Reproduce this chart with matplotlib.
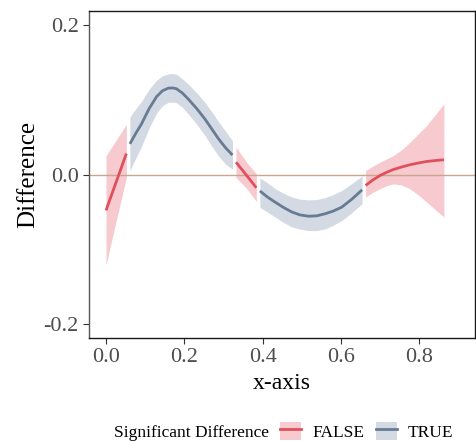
import matplotlib.pyplot as plt
from matplotlib.lines import Line2D
from matplotlib.patches import Patch

plt.rcParams['font.family'] = ['Liberation Serif', 'DejaVu Serif']

# smoothed difference, split by significance (x, fit, lower, upper)
false1_x = [0.000, 0.026, 0.052]
false1_y = [-0.048, -0.010, 0.028]
false1_lo = [-0.121, -0.062, -0.004]
false1_hi = [0.025, 0.046, 0.067]

true1_x = [0.061, 0.076, 0.091, 0.110, 0.129, 0.144, 0.159, 0.170, 0.180, 0.195,
           0.210, 0.232, 0.253, 0.270, 0.287, 0.305, 0.323]
true1_y = [0.041, 0.055, 0.068, 0.088, 0.104, 0.112, 0.1155, 0.1158, 0.1147, 0.109,
           0.101, 0.088, 0.074, 0.061, 0.048, 0.036, 0.026]
true1_lo = [0.005, 0.022, 0.038, 0.062, 0.082, 0.092, 0.0965, 0.097, 0.096, 0.090,
            0.081, 0.067, 0.052, 0.038, 0.025, 0.014, 0.007]
true1_hi = [0.077, 0.088, 0.098, 0.114, 0.126, 0.132, 0.1345, 0.135, 0.134, 0.128,
            0.121, 0.109, 0.096, 0.084, 0.071, 0.058, 0.045]

false2_x = [0.332, 0.358, 0.384]
false2_y = [0.0165, -0.0005, -0.0178]
false2_lo = [-0.004, -0.018, -0.036]
false2_hi = [0.037, 0.017, 0.001]

true2_x = [0.393, 0.412, 0.432, 0.453, 0.474, 0.495, 0.517, 0.538, 0.559, 0.580,
           0.602, 0.628, 0.654]
true2_y = [-0.022, -0.030, -0.037, -0.044, -0.050, -0.054, -0.0558, -0.0553, -0.0526,
           -0.049, -0.0437, -0.033, -0.0205]
true2_lo = [-0.044, -0.050, -0.057, -0.064, -0.070, -0.073, -0.075, -0.075, -0.073,
            -0.068, -0.0615, -0.051, -0.039]
true2_hi = [-0.0045, -0.011, -0.019, -0.025, -0.030, -0.033, -0.034, -0.0335, -0.031,
            -0.027, -0.0214, -0.012, -0.002]

false3_x = [0.663, 0.681, 0.700, 0.717, 0.734, 0.755, 0.776, 0.797, 0.819, 0.841, 0.863]
false3_y = [-0.0147, -0.0075, -0.0013, 0.003, 0.0067, 0.010, 0.013, 0.0153, 0.0174,
            0.0187, 0.0197]
false3_lo = [-0.030, -0.024, -0.019, -0.015, -0.0125, -0.014, -0.019, -0.027, -0.037,
             -0.047, -0.057]
false3_hi = [0.0054, 0.011, 0.0165, 0.021, 0.0254, 0.033, 0.043, 0.054, 0.0656,
             0.080, 0.0946]

segments = [
    (False, false1_x, false1_y, false1_lo, false1_hi),
    (True, true1_x, true1_y, true1_lo, true1_hi),
    (False, false2_x, false2_y, false2_lo, false2_hi),
    (True, true2_x, true2_y, true2_lo, true2_hi),
    (False, false3_x, false3_y, false3_lo, false3_hi),
]

line_col = {False: '#E0505C', True: '#687B94'}
band_col = {False: '#F6CACE', True: '#D3DAE3'}

fig = plt.figure(figsize=(4.76, 4.41), dpi=100)
ax = fig.add_axes([0.187, 0.2336, 0.811, 0.7414])

for sig, x, y, lo, hi in segments:
    ax.fill_between(x, lo, hi, color=band_col[sig], lw=0, zorder=1)
    ax.plot(x, y, color=line_col[sig], lw=2, zorder=3, solid_capstyle='butt',
            solid_joinstyle='round')

ax.axhline(0, color='#C9A48F', lw=1, zorder=2)

ax.set_xlim(-0.0434, 0.9425)
ax.set_ylim(-0.2187, 0.2187)
ax.set_xticks([0.0, 0.2, 0.4, 0.6, 0.8])
ax.set_xticklabels(['0.0', '0.2', '0.4', '0.6', '0.8'])
ax.set_yticks([-0.2, 0.0, 0.2])
ax.set_yticklabels(['-0.2', '0.0', '0.2'])
ax.tick_params(labelsize=16, labelcolor='#4D4D4D', color='#333333', length=4, width=0.8)
for s in ax.spines.values():
    s.set_color('#1A1A1A')
    s.set_linewidth(1.0)
ax.spines['left'].set_color('#555555')

ax.set_xlabel('x-axis', fontsize=17, labelpad=4)
ax.set_ylabel('Difference', fontsize=18, labelpad=3)

fig.text(0.24, 0.0098, 'Significant Difference', fontsize=12.5, ha='left', va='baseline')
handles = [(Patch(facecolor=band_col[False], edgecolor='none'), Line2D([], [], color=line_col[False], lw=2)),
           (Patch(facecolor=band_col[True], edgecolor='none'), Line2D([], [], color=line_col[True], lw=2))]
fig.legend(handles, ['FALSE', 'TRUE'], loc='center left', bbox_to_anchor=(0.556, 0.022), ncol=2,
           frameon=False, fontsize=12.5, handlelength=1.2, handleheight=1.2, handletextpad=0.64,
           columnspacing=0.66)

fig.savefig('out.png', dpi=100)
